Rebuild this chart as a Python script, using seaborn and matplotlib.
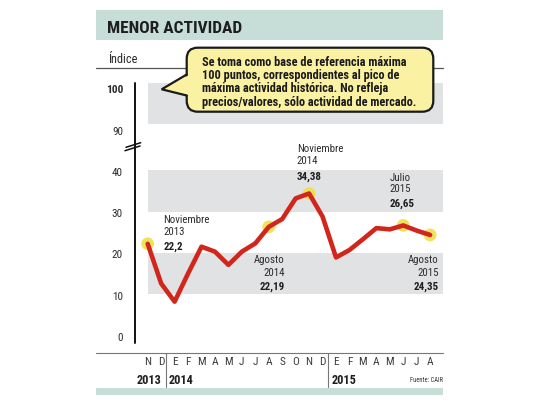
import numpy as np
import pandas as pd
import matplotlib
matplotlib.use('Agg')
import matplotlib.pyplot as plt
import seaborn as sns
from matplotlib import font_manager as fm
from matplotlib.patches import FancyBboxPatch, Polygon, Rectangle
from matplotlib.lines import Line2D
from matplotlib.transforms import ScaledTranslation

# ---------------- data ----------------
meses = ['N', 'D', 'E', 'F', 'M', 'A', 'M', 'J', 'J', 'A', 'S', 'O', 'N', 'D',
         'E', 'F', 'M', 'A', 'M', 'J', 'J', 'A']
indice = [22.2, 12.6, 8.2, 15.0, 21.5, 20.3, 17.1, 20.3, 22.3, 26.3, 28.2, 33.2,
          34.38, 28.8, 18.9, 20.7, 23.3, 26.0, 25.7, 26.65, 25.4, 24.35]
destacados = [0, 9, 12, 19, 21]
etiquetas_mes = ['Noviembre\n2013', 'Agosto\n2014', 'Noviembre\n2014', 'Julio\n2015', 'Agosto\n2015']
etiquetas_valor = ['22,2', '22,19', '34,38', '26,65', '24,35']
anios = ['2013', '2014', '2015']
ticks_bajo = [0, 10, 20, 30, 40]
ticks_alto = [90, 100]
bandas_bajo = [(10, 20), (30, 40)]
banda_alta = (90, 100)
titulo = 'MENOR ACTIVIDAD'
eje_titulo = 'Índice'
nota = ['Se toma como base de referencia máxima',
        '100 puntos, correspondientes al pico de',
        'máxima actividad histórica. No refleja',
        'precios/valores, sólo actividad de mercado.']
fuente = 'Fuente: CAIR'

df = pd.DataFrame({'mes': np.arange(len(indice)), 'indice': indice})
df_dest = df.iloc[destacados]

# ---------------- fonts ----------------
sns.set_theme(style='white')
entries = fm.fontManager.ttflist
names = {f.name for f in entries}
cond = {f.name for f in entries if str(f.stretch) in
        ('condensed', 'semi-condensed', 'extra-condensed', 'ultra-condensed')}
FAM, STRETCH = None, 'normal'
for n in ['Liberation Sans Narrow', 'Roboto Condensed', 'Open Sans Condensed',
          'Noto Sans Condensed', 'DejaVu Sans Condensed']:
    if n in names:
        FAM = n
        break
if FAM is None:
    for n in ['Noto Sans', 'Roboto', 'Open Sans', 'DejaVu Sans', 'Liberation Sans', 'Lato', 'Inter']:
        if n in cond:
            FAM, STRETCH = n, 'condensed'
            break
if FAM is None:
    FAM = 'Liberation Sans'
plt.rcParams['font.family'] = [FAM, 'DejaVu Sans']
plt.rcParams['font.stretch'] = STRETCH

W, H = 540, 405
fig = plt.figure(figsize=(W / 100, H / 100), dpi=100)
fig.patch.set_facecolor('white')
renderer = fig.canvas.get_renderer()


def fit(s, target, weight='normal', cap=None):
    t = fig.text(0, 0, s, fontsize=10, weight=weight, family=[FAM, 'DejaVu Sans'], fontstretch=STRETCH)
    w = t.get_window_extent(renderer).width
    t.remove()
    size = 10 * target / w
    if cap is not None:
        size = min(size, cap)
    return size


fs_title = fit(titulo, 137, 'bold', 12.5)
fs_eje = fit(eje_titulo, 29, 'normal', 9)
fs_nota = fit(nota[0], 205, 'bold', 9)
fs_ann = fit('Noviembre', 46, 'normal', 8.5)
fs_val = fit('22,2', 19.3, 'bold', 8.7)
fs_tick = fit('40', 11.7, 'normal', 8)
fs_tick100 = fit('100', 17.3, 'bold', 8.2)
fs_mes = 8.2
fs_anio = fit('2013', 25, 'bold', 9.5)
fs_fuente = fit(fuente, 33, 'normal', 6.5)

TXT = '#2b2b2b'
GRAY_BAND = '#e1e2e4'
TEAL = '#c6ddd8'
RED = '#d2261d'
YEL = '#efe04a'


def canvas(z):
    a = fig.add_axes([0, 0, 1, 1], zorder=z)
    a.set_xlim(0, W)
    a.set_ylim(H, 0)
    a.axis('off')
    return a


bg = canvas(0)
fg = canvas(10)

# ---------------- data axes (pixel layout) ----------------
X0, DX = 147.7, 13.45          # px of first month and month spacing
LEFT, RIGHT = 134, 443
low_top, low_bot = 150, 343
up_top, up_bot = 80, 147
y0_low, k = 335.5, 4.13         # px of value 0 and px per unit (lower)
y100_up, ku = 82.5, 4.15        # px of value 100 and px per unit (upper)

ax_low = fig.add_axes([LEFT / W, 1 - low_bot / H, (RIGHT - LEFT) / W, (low_bot - low_top) / H], zorder=5)
ax_up = fig.add_axes([LEFT / W, 1 - up_bot / H, (RIGHT - LEFT) / W, (up_bot - up_top) / H], zorder=5)
xl = ((LEFT - X0) / DX, (RIGHT - X0) / DX)
for a in (ax_low, ax_up):
    a.set_facecolor('none')
    a.set_xlim(*xl)
    for s in a.spines.values():
        s.set_visible(False)
    a.grid(False)
ax_low.set_ylim((y0_low - low_bot) / k, (y0_low - low_top) / k)
ax_up.set_ylim(100 - (up_bot - y100_up) / ku, 100 + (y100_up - up_top) / ku)

band_x0 = (148 - LEFT) / (RIGHT - LEFT)
for lo, hi in bandas_bajo:
    ax_low.axhspan(lo, hi, xmin=band_x0, xmax=1, color=GRAY_BAND, lw=0, zorder=0)
ax_up.axhspan(banda_alta[0], banda_alta[1], xmin=band_x0, xmax=1, color=GRAY_BAND, lw=0, zorder=0)

sns.scatterplot(data=df_dest, x='mes', y='indice', ax=ax_low, s=85, color=YEL,
                edgecolor='none', alpha=0.9, zorder=1, legend=False)
sns.lineplot(data=df, x='mes', y='indice', ax=ax_low, color=RED, linewidth=3.3,
             zorder=2, legend=False)
ax_low.set_xlabel('')
ax_low.set_ylabel('')
ax_up.set_xlabel('')
ax_up.set_ylabel('')

# y ticks
ax_low.set_yticks(ticks_bajo, [str(t) for t in ticks_bajo])
ax_low.tick_params(axis='y', length=0, pad=(LEFT - 123.0) * 0.72, labelsize=fs_tick, labelcolor=TXT)
for lab in ax_low.get_yticklabels():
    lab.set_va('baseline')
    lab.set_transform(lab.get_transform() + ScaledTranslation(0, -5.3 / 100, fig.dpi_scale_trans))
ax_up.set_yticks(ticks_alto, [str(t) for t in ticks_alto])
ax_up.tick_params(axis='y', length=0, pad=(LEFT - 123.0) * 0.72, labelsize=fs_tick, labelcolor=TXT)
for lab in ax_up.get_yticklabels():
    lab.set_va('baseline')
    if lab.get_text() == '100':
        lab.set_fontweight('bold')
        lab.set_fontsize(fs_tick100)
    lab.set_transform(lab.get_transform() + ScaledTranslation(0, -10.9 / 100, fig.dpi_scale_trans))

# x ticks (months)
ax_low.set_xticks(range(len(meses)), meses)
ax_low.tick_params(axis='x', length=0, pad=0, labelsize=fs_mes, labelcolor='#3a3a3a')
for lab in ax_low.get_xticklabels():
    lab.set_va('baseline')
    lab.set_transform(lab.get_transform() + ScaledTranslation(0, -21.9 / 100, fig.dpi_scale_trans))
ax_up.set_xticks([])

# ---------------- decorations ----------------
bg.add_patch(Rectangle((96, 10), 347, 30, color=TEAL, lw=0))
bg.add_patch(Rectangle((96, 388.3), 347, 6.7, color=TEAL, lw=0))
bg.add_line(Line2D([96, 443], [68.3, 68.3], color='#555555', lw=0.9))
bg.add_line(Line2D([96, 443], [352.7, 352.7], color='#777777', lw=0.8))
for xd in (166, 327.5):
    bg.add_line(Line2D([xd, xd], [353, 387], color='#777777', lw=0.8))
# y axis line with break
fg.add_line(Line2D([134.5, 134.5], [83, 343], color='#111111', lw=1.4))
fg.add_line(Line2D([126, 140.7], [147.3, 142.7], color='#111111', lw=1.1))
fg.add_line(Line2D([125, 140], [150.7, 146], color='#111111', lw=1.1))

# title and axis title
fg.text(106.7, 32.7, titulo, fontsize=fs_title, weight='bold', color='#1e1e1e', va='baseline', ha='left')
fg.text(108, 62.7, eje_titulo, fontsize=fs_eje, color=TXT, va='baseline', ha='left')

# callout
fg.add_patch(FancyBboxPatch((186.7, 47.7), 246.6, 64, boxstyle='round,pad=0,rounding_size=11',
                            facecolor='#fbf1a2', edgecolor='#1a1a1a', lw=1.6, zorder=1))
fg.add_patch(Polygon([(190, 74.5), (161.7, 89.3), (190, 95.5)], closed=True,
                     facecolor='#fbf1a2', edgecolor='none', zorder=2))
fg.add_line(Line2D([186.7, 161.7, 186.7], [74.5, 89.3, 95.5], color='#1a1a1a', lw=1.6,
                   zorder=3, solid_joinstyle='miter'))
for i, line in enumerate(nota):
    fg.text(201.7, 66 + i * 13.2, line, fontsize=fs_nota, weight='bold', color='#1a1a1a',
            va='baseline', ha='left', zorder=4)

# annotations: (x, baselines, ha)
ann_pos = [(163.3, (222.7, 235, 249.3), 'left'),
           (285, (263.3, 276.5, 290), 'right'),
           (296.7, (151.7, 164, 179.3), 'left'),
           (389.3, (180.7, 192.5, 206.7), 'left'),
           (439, (263.3, 276.5, 289.8), 'right')]
for (x, ys, ha), lbl, val in zip(ann_pos, etiquetas_mes, etiquetas_valor):
    l1, l2 = lbl.split('\n')
    fg.text(x, ys[0], l1, fontsize=fs_ann, color=TXT, va='baseline', ha=ha)
    fg.text(x, ys[1], l2, fontsize=fs_ann, color=TXT, va='baseline', ha=ha)
    fg.text(x, ys[2], val, fontsize=fs_val, weight='bold', color='#1e1e1e', va='baseline', ha=ha)

# years and source
fg.text(161.7, 384.3, anios[0], fontsize=fs_anio, weight='bold', color='#1e1e1e', va='baseline', ha='right')
fg.text(168.7, 384.3, anios[1], fontsize=fs_anio, weight='bold', color='#1e1e1e', va='baseline', ha='left')
fg.text(331.5, 384.3, anios[2], fontsize=fs_anio, weight='bold', color='#1e1e1e', va='baseline', ha='left')
fg.text(443, 382.5, fuente, fontsize=fs_fuente, color='#333333', va='baseline', ha='right')

fig.savefig('out.png', dpi=100, facecolor='white')
